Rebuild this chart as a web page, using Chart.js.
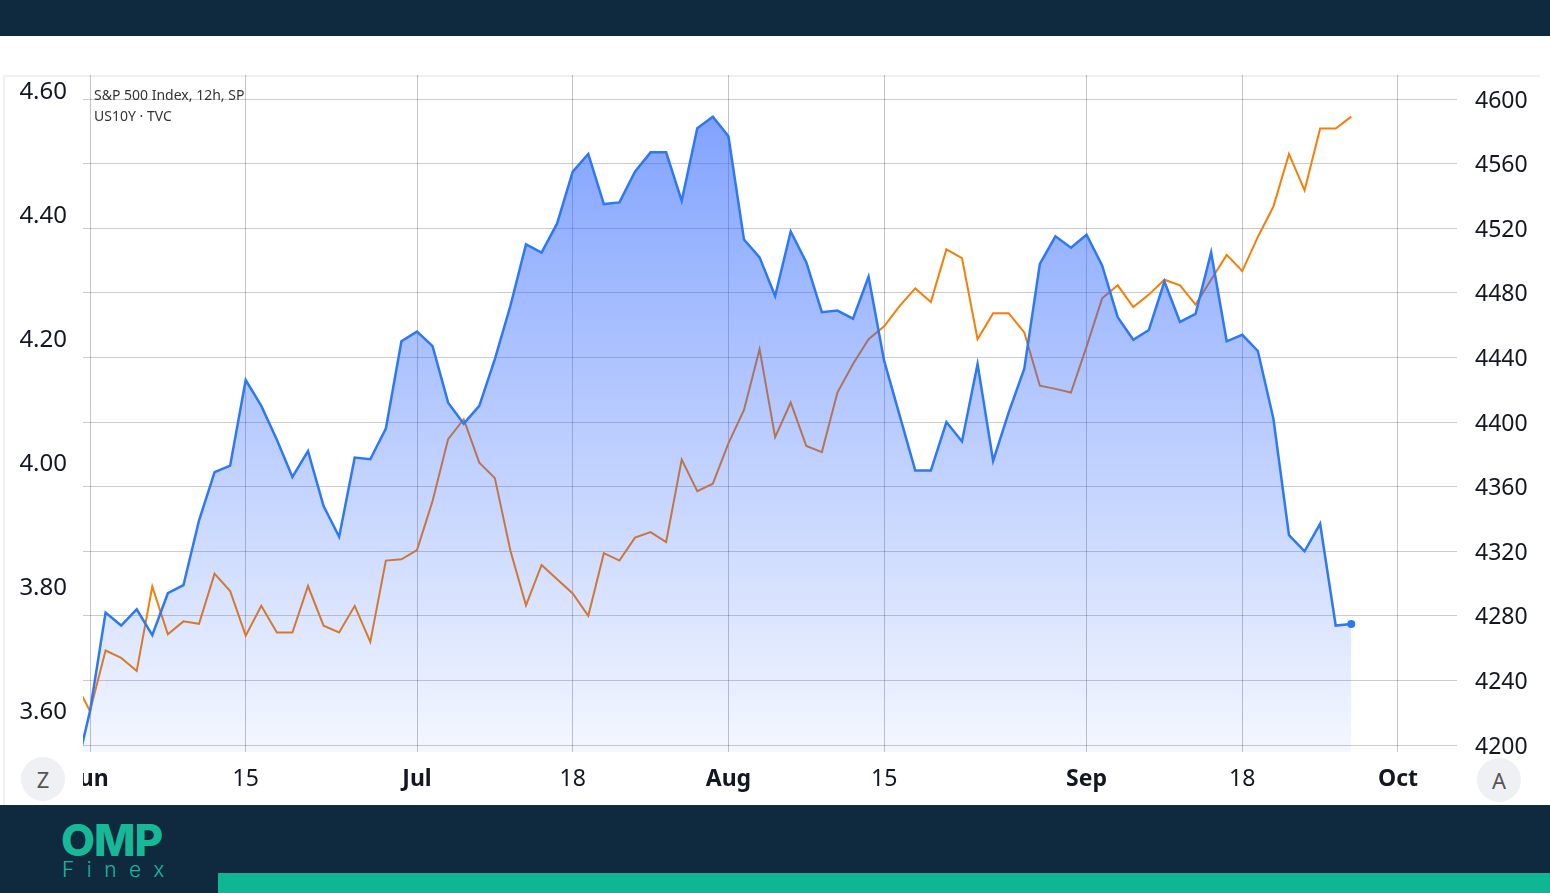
<!DOCTYPE html>
<html>
<head>
<meta charset="utf-8">
<title>S&amp;P 500 vs US10Y</title>
<script src="https://cdn.jsdelivr.net/npm/chart.js@4.4.1/dist/chart.umd.min.js"></script>
<style>
    body { margin: 0; width: 1550px; height: 893px; background: #fff; position: relative; overflow: hidden; font-family: "Noto Sans", sans-serif; }
    #top-bar { position: absolute; left: 0; top: 0; width: 1550px; height: 36px; background: #0f2a3f; }
    #panel { position: absolute; left: 3px; top: 75px; width: 1537px; height: 730px; border-top: 2px solid #f0f0f3; border-left: 2px solid #f0f0f3; box-sizing: border-box; }
    #chart { position: absolute; left: 0; top: 0; }
    .legend { position: absolute; left: 94px; font-size: 14px; color: #333; line-height: 18px; white-space: nowrap; }
    #mask { position: absolute; left: 6px; top: 756px; width: 77px; height: 48px; background: #fff; }
    .btn { position: absolute; width: 44px; height: 44px; border-radius: 50%; background: #eff0f3; color: #555; font-size: 22px; line-height: 44px; text-align: center; }
    #bottom-bar { position: absolute; left: 0; top: 805px; width: 1550px; height: 88px; background: #0f2a3f; }
    #logo-omp { position: absolute; left: 61px; top: 813px; font-family: Inter, sans-serif; font-weight: 800; font-size: 44px; color: #17b897; letter-spacing: -1px; }
    #logo-finex { position: absolute; left: 62px; top: 857px; font-family: Inter, sans-serif; font-weight: 300; font-size: 21px; color: #17b897; letter-spacing: 12.5px; }
    #teal-bar { position: absolute; left: 218px; top: 873px; width: 1332px; height: 20px; background: #10b593; }
</style>
</head>
<body>
<div id="top-bar"></div>
<div id="panel"></div>
<canvas id="chart" width="1550" height="893"></canvas>
<div class="legend" style="top: 86px;">S&amp;P 500 Index, 12h, SP</div>
<div class="legend" style="top: 107px;">US10Y · TVC</div>
<div id="mask"></div>
<div class="btn" style="left: 21px; top: 757px;">Z</div>
<div class="btn" style="left: 1477px; top: 758px;">A</div>
<div id="bottom-bar"></div>
<div id="logo-omp">OMP</div>
<div id="logo-finex">Finex</div>
<div id="teal-bar"></div>

<script>
// trading days (first one sits just left of the visible area)
const tradingDays = [
    'May 31',
    'Jun 1', 'Jun 2', 'Jun 5', 'Jun 6', 'Jun 7', 'Jun 8', 'Jun 9', 'Jun 12', 'Jun 13', 'Jun 14',
    'Jun 15', 'Jun 16', 'Jun 20', 'Jun 21', 'Jun 22', 'Jun 23', 'Jun 26', 'Jun 27', 'Jun 28', 'Jun 29', 'Jun 30',
    'Jul 3', 'Jul 5', 'Jul 6', 'Jul 7', 'Jul 10', 'Jul 11', 'Jul 12', 'Jul 13', 'Jul 14', 'Jul 17',
    'Jul 18', 'Jul 19', 'Jul 20', 'Jul 21', 'Jul 24', 'Jul 25', 'Jul 26', 'Jul 27', 'Jul 28', 'Jul 31',
    'Aug 1', 'Aug 2', 'Aug 3', 'Aug 4', 'Aug 7', 'Aug 8', 'Aug 9', 'Aug 10', 'Aug 11', 'Aug 14',
    'Aug 15', 'Aug 16', 'Aug 17', 'Aug 18', 'Aug 21', 'Aug 22', 'Aug 23', 'Aug 24', 'Aug 25', 'Aug 28',
    'Aug 29', 'Aug 30', 'Aug 31',
    'Sep 1', 'Sep 5', 'Sep 6', 'Sep 7', 'Sep 8', 'Sep 11', 'Sep 12', 'Sep 13', 'Sep 14', 'Sep 15',
    'Sep 18', 'Sep 19', 'Sep 20', 'Sep 21', 'Sep 22', 'Sep 25', 'Sep 26', 'Sep 27', 'Sep 28', 'Sep 29',
    'Oct 2'
];

// S&P 500 Index (right axis)
const spx = [
    4180,
    4221, 4282, 4274, 4284, 4268, 4294, 4299, 4339, 4369, 4373,
    4426, 4410, 4389, 4366, 4382, 4348, 4329, 4378, 4377, 4396, 4450,
    4456, 4447, 4412, 4399, 4410, 4439, 4472, 4510, 4505, 4523,
    4555, 4566, 4535, 4536, 4555, 4567, 4567, 4537, 4582, 4589,
    4577, 4513, 4502, 4478, 4518, 4499, 4468, 4469, 4464, 4490,
    4438, 4404, 4370, 4370, 4400, 4388, 4436, 4376, 4406, 4433,
    4498, 4515, 4508,
    4516, 4497, 4465, 4451, 4457, 4487, 4462, 4467, 4505, 4450,
    4454, 4444, 4402, 4330, 4320, 4337, 4274, 4275
];

// US 10Y yield (left axis)
const us10y = [
    3.647,
    3.598, 3.696, 3.684, 3.663, 3.799, 3.722, 3.743, 3.739, 3.820, 3.792,
    3.720, 3.768, 3.725, 3.725, 3.800, 3.736, 3.725, 3.768, 3.710, 3.841, 3.843,
    3.858, 3.937, 4.037, 4.069, 3.999, 3.974, 3.857, 3.769, 3.834, 3.811,
    3.788, 3.752, 3.853, 3.841, 3.878, 3.887, 3.871, 4.004, 3.953, 3.965,
    4.030, 4.084, 4.182, 4.040, 4.096, 4.026, 4.016, 4.112, 4.158, 4.198,
    4.219, 4.252, 4.280, 4.258, 4.343, 4.329, 4.198, 4.240, 4.240, 4.209,
    4.123, 4.118, 4.112,
    4.186, 4.264, 4.285, 4.250, 4.270, 4.294, 4.285, 4.254, 4.294, 4.334,
    4.308, 4.363, 4.412, 4.497, 4.438, 4.538, 4.538, 4.557
];

// x axis tick labels
const tickDays = ['Jun 1', 'Jun 15', 'Jul 3', 'Jul 18', 'Aug 1', 'Aug 15', 'Sep 1', 'Sep 18', 'Oct 2'];
const tickLabels = ['Jun', '15', 'Jul', '18', 'Aug', '15', 'Sep', '18', 'Oct'];
const yieldTicks = [3.6, 3.8, 4.0, 4.2, 4.4, 4.6];
const spxTicks = [4200, 4240, 4280, 4320, 4360, 4400, 4440, 4480, 4520, 4560, 4600];

// index 0 = Jun 1
const dayIndex = day => tradingDays.indexOf(day) - 1;
const toPoints = values => values.map((v, i) => ({x: i - 1, y: v}));

const tickIndex = tickDays.map(dayIndex);
const monthLabels = ['Jun', 'Jul', 'Aug', 'Sep', 'Oct'];

function areaFill(context) {
    const {ctx, chartArea} = context.chart;
    if (!chartArea) return 'rgba(41,98,255,0.3)';
    const g = ctx.createLinearGradient(0, chartArea.top, 0, chartArea.bottom);
    g.addColorStop(0, 'rgba(41,98,255,0.62)');
    g.addColorStop(1, 'rgba(41,98,255,0.05)');
    return g;
}

const lastSpx = spx.length - 1;

new Chart(document.getElementById('chart'), {
    type: 'line',
    data: {
        datasets: [{
            label: 'S&P 500 Index',
            data: toPoints(spx),
            yAxisID: 'ySpx',
            borderColor: '#2d79f4',
            borderWidth: 2.5,
            backgroundColor: areaFill,
            fill: 'start',
            tension: 0,
            pointRadius: ctx => ctx.dataIndex === lastSpx ? 4 : 0,
            pointBackgroundColor: '#2d79f4',
            pointBorderWidth: 0,
            order: 0
        }, {
            label: 'US10Y',
            data: toPoints(us10y),
            yAxisID: 'yYield',
            borderColor: '#f67d06',
            borderWidth: 2,
            fill: false,
            tension: 0,
            pointRadius: 0,
            order: 1
        }]
    },
    options: {
        responsive: false,
        animation: false,
        layout: {padding: {top: 75, bottom: 88, left: 0, right: 10}},
        plugins: {legend: {display: false}, tooltip: {enabled: false}},
        scales: {
            x: {
                type: 'linear',
                min: -0.45,
                max: 87.79,
                afterBuildTicks: scale => { scale.ticks = tickIndex.map(v => ({value: v})); },
                afterFit: scale => { scale.height = 53; },
                border: {display: false},
                grid: {color: 'rgba(40,40,60,0.28)', drawTicks: false},
                ticks: {
                    autoSkip: false,
                    maxRotation: 0,
                    padding: 14,
                    color: '#131722',
                    font: ctx => ({
                        family: 'Noto Sans',
                        size: 23,
                        weight: monthLabels.includes(tickLabels[ctx.index]) ? 'bold' : 'normal'
                    }),
                    callback: (value, index) => tickLabels[index]
                }
            },
            yYield: {
                position: 'left',
                min: 3.5323,
                max: 4.6242,
                afterBuildTicks: scale => { scale.ticks = yieldTicks.map(v => ({value: v})); },
                afterFit: scale => { scale.width = 83; },
                border: {display: false},
                grid: {display: false, drawTicks: false},
                ticks: {
                    padding: 16,
                    labelOffset: 2,
                    color: '#131722',
                    font: {family: 'Noto Sans', size: 24},
                    callback: v => v.toFixed(2)
                }
            },
            ySpx: {
                position: 'right',
                min: 4195.7,
                max: 4614.9,
                afterBuildTicks: scale => { scale.ticks = spxTicks.map(v => ({value: v})); },
                afterFit: scale => { scale.width = 83; },
                border: {display: false},
                grid: {color: 'rgba(0,0,0,0.2)', drawTicks: false},
                ticks: {
                    padding: 18,
                    labelOffset: 2,
                    color: '#131722',
                    font: {family: 'Noto Sans', size: 23},
                    callback: v => String(v)
                }
            }
        }
    }
});
</script>
</body>
</html>
